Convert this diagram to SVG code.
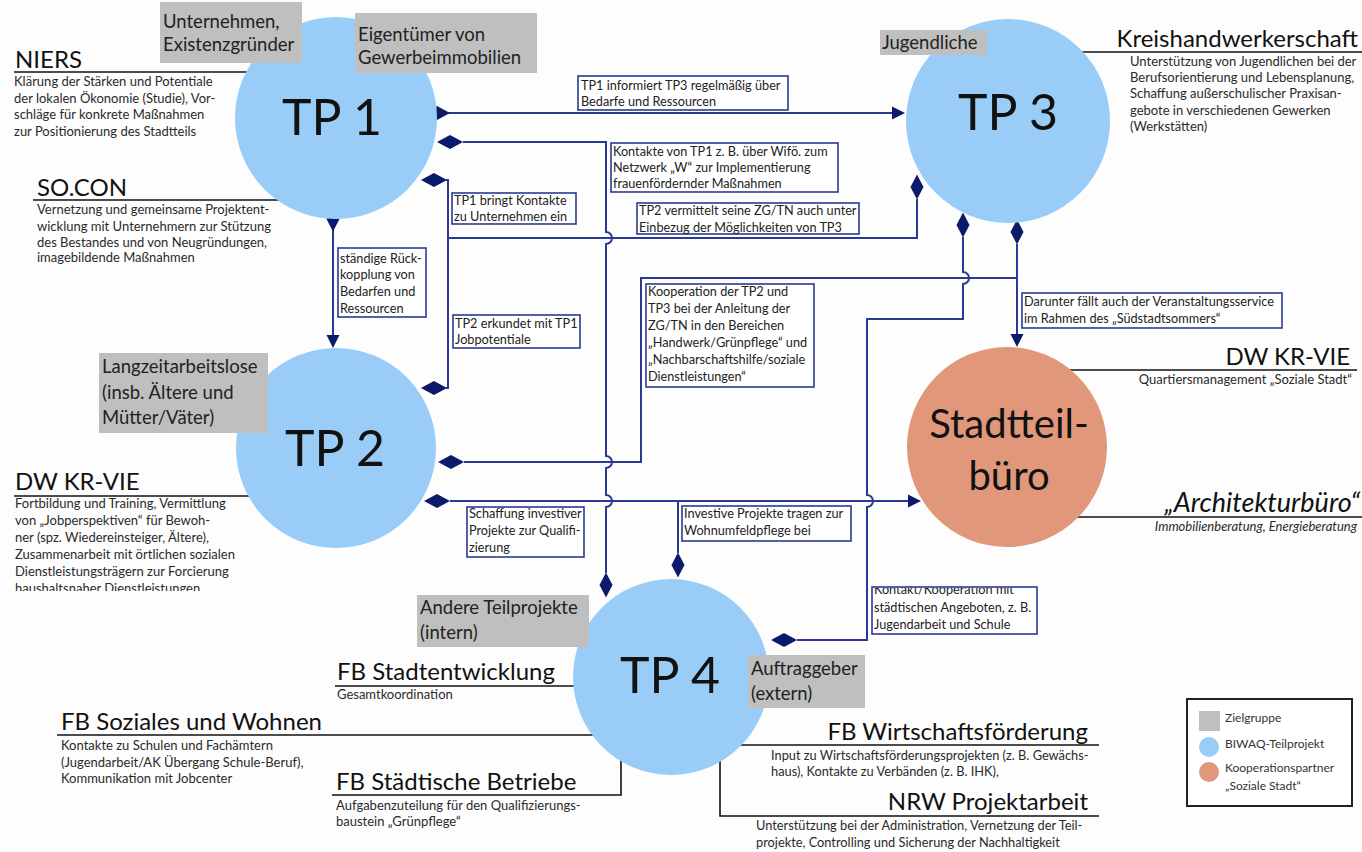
<svg xmlns="http://www.w3.org/2000/svg" width="1362" height="852" viewBox="0 0 1362 852">
<style>
text{font-family:Lato,"Open Sans","Liberation Sans",sans-serif;}
.bg{fill:#fdfdfd;}
.tp{fill:#99CCF7;}
.sb{fill:#E0977A;}
.big{font-size:50px;fill:#111;text-anchor:middle;}
.big2{font-size:40px;fill:#111;text-anchor:middle;}
.zg{fill:#BFBFBF;}
.zgt{font-size:18.5px;fill:#222;}
.hd{font-size:24px;fill:#111;}
.ds{font-size:13px;fill:#2a2a2a;}
.ds2{font-size:12.8px;fill:#2a2a2a;}
.ul{stroke:#111;stroke-width:1.6;fill:none;}
.cn{stroke:#2A3A94;stroke-width:2;fill:none;}
.mk{fill:#0C1A6B;}
.lb{fill:#fff;stroke:#2A3A94;stroke-width:1.6;}
.lt{font-size:12.7px;fill:#222;}
.end{text-anchor:end;}
.it{font-style:italic;}
.lg{font-size:12px;fill:#333;}
</style>
<defs>
<path id="dH" class="mk" d="M-13,0 L0,-7 L13,0 L0,7 Z"/>
<path id="dV" class="mk" d="M0,-12.5 L6.5,0 L0,12.5 L-6.5,0 Z"/>
<path id="aR" class="mk" d="M0,0 L-13,-6.5 L-13,6.5 Z"/>
<path id="aD" class="mk" d="M0,0 L-6.5,-13 L6.5,-13 Z"/>
<clipPath id="clipK"><rect x="872" y="588" width="165" height="46"/></clipPath>
<clipPath id="clipDW"><rect x="0" y="0" width="300" height="591"/></clipPath>
<clipPath id="clipV"><rect x="637" y="203" width="222" height="31"/></clipPath>
</defs>
<rect class="bg" x="0" y="0" width="1362" height="852"/>

<g id="partner-lines">
<path class="ul" d="M14,72 H300"/>
<path class="ul" d="M33,200 H300"/>
<path class="ul" d="M14,496 H300"/>
<path class="ul" d="M1040,52 H1362"/>
<path class="ul" d="M1040,370 H1357"/>
<path class="ul" d="M1040,517 H1362"/>
<path class="ul" d="M335,686 H620"/>
<path class="ul" d="M57,735 H620"/>
<path class="ul" d="M332,795 H621 V740"/>
<path class="ul" d="M720,745 H1099"/>
<path class="ul" d="M720,740 V816 H1099"/>
</g>

<g id="connectors">
<path class="cn" d="M437,113 H893"/>
<path class="cn" d="M463,142 H606 V232 A6,6 0 0 1 606,244 V456 A6,6 0 0 1 606,468 V495 A6,6 0 0 1 606,507 V573"/>
<path class="cn" d="M446,180 H448 V388 H446"/>
<path class="cn" d="M448,238 H917 V199"/>
<path class="cn" d="M333,225 V336"/>
<path class="cn" d="M464,462 H641 V278 H1017"/>
<path class="cn" d="M1017,244 V335"/>
<path class="cn" d="M963,237 V272 A6,6 0 0 1 963,284 V319 H867 V495 A6,6 0 0 1 867,507 V640 H797"/>
<path class="cn" d="M450,501 H909"/>
<path class="cn" d="M678,501 V553"/>
<use href="#dH" x="437" y="113"/>
<use href="#aR" x="905" y="113"/>
<use href="#dH" x="450" y="142"/>
<use href="#dH" x="434" y="180"/>
<use href="#dH" x="434" y="388"/>
<use href="#dV" x="917" y="187"/>
<use href="#dV" x="333" y="219"/>
<use href="#aD" x="333" y="348"/>
<use href="#dH" x="451" y="462"/>
<use href="#dV" x="963" y="225"/>
<use href="#dV" x="1017" y="232"/>
<use href="#aD" x="1017" y="347"/>
<use href="#dH" x="437" y="501"/>
<use href="#aR" x="921" y="501"/>
<use href="#dV" x="678" y="565"/>
<use href="#dV" x="606" y="585"/>
<use href="#dH" x="784" y="640"/>
</g>

<g id="tp1"><circle class="tp" cx="336" cy="118" r="101"/><text class="big" x="332" y="135">TP 1</text></g>
<g id="tp2"><circle class="tp" cx="336" cy="448" r="100"/><text class="big" x="335" y="466">TP 2</text></g>
<g id="tp3"><circle class="tp" cx="1008" cy="121" r="102"/><text class="big" x="1008" y="130">TP 3</text></g>
<g id="tp4"><circle class="tp" cx="671" cy="677" r="98"/><text class="big" x="670" y="693">TP 4</text></g>
<g id="stadtteilbuero"><circle class="sb" cx="1007" cy="447" r="100"/><text class="big2" x="1009" y="438">Stadtteil-</text><text class="big2" x="1009" y="490">büro</text></g>

<g id="zg-unternehmen"><rect class="zg" x="160" y="2" width="142" height="61"/><text class="zgt" x="163" y="28">Unternehmen,</text><text class="zgt" x="163" y="51">Existenzgründer</text></g>
<g id="zg-eigentuemer"><rect class="zg" x="355" y="13" width="182" height="60"/><text class="zgt" x="358" y="41">Eigentümer von</text><text class="zgt" x="358" y="64">Gewerbeimmobilien</text></g>
<g id="zg-jugendliche"><rect class="zg" x="880" y="30" width="107" height="25"/><text class="zgt" x="882" y="49">Jugendliche</text></g>
<g id="zg-langzeit"><rect class="zg" x="99" y="353" width="169" height="80"/><text class="zgt" x="102" y="373">Langzeitarbeitslose</text><text class="zgt" x="102" y="399">(insb. Ältere und</text><text class="zgt" x="102" y="424">Mütter/Väter)</text></g>
<g id="zg-andere"><rect class="zg" x="417" y="595" width="172" height="52"/><text class="zgt" x="420" y="614">Andere Teilprojekte</text><text class="zgt" x="420" y="639">(intern)</text></g>
<g id="zg-auftraggeber"><rect class="zg" x="748" y="655" width="117" height="53"/><text class="zgt" x="751" y="675">Auftraggeber</text><text class="zgt" x="751" y="700">(extern)</text></g>

<g id="labels">
<rect class="lb" x="578" y="76" width="210" height="34"/>
<text class="lt" x="581" y="90">TP1 informiert TP3 regelmäßig über</text>
<text class="lt" x="581" y="106">Bedarfe und Ressourcen</text>
<rect class="lb" x="611" y="143" width="227" height="49"/>
<text class="lt" x="613" y="156">Kontakte von TP1 z. B. über Wifö. zum</text>
<text class="lt" x="613" y="172">Netzwerk „W“ zur Implementierung</text>
<text class="lt" x="613" y="188">frauenfördernder Maßnahmen</text>
<rect class="lb" x="452" y="193" width="124" height="31"/>
<text class="lt" x="454" y="205">TP1 bringt Kontakte</text>
<text class="lt" x="454" y="221">zu Unternehmen ein</text>
<rect class="lb" x="637" y="203" width="222" height="31"/>
<g clip-path="url(#clipV)">
<text class="lt" x="639" y="215">TP2 vermittelt seine ZG/TN auch unter</text>
<text class="lt" x="639" y="232">Einbezug der Möglichkeiten von TP3</text>
</g>
<rect class="lb" x="338" y="248" width="88" height="69"/>
<text class="lt" x="340" y="263">ständige Rück-</text>
<text class="lt" x="340" y="279">kopplung von</text>
<text class="lt" x="340" y="296">Bedarfen und</text>
<text class="lt" x="340" y="313">Ressourcen</text>
<rect class="lb" x="453" y="315" width="127" height="33"/>
<text class="lt" x="455" y="328">TP2 erkundet mit TP1</text>
<text class="lt" x="455" y="344">Jobpotentiale</text>
<rect class="lb" x="646" y="284" width="168" height="103"/>
<text class="lt" x="648" y="296">Kooperation der TP2 und</text>
<text class="lt" x="648" y="313">TP3 bei der Anleitung der</text>
<text class="lt" x="648" y="330">ZG/TN in den Bereichen</text>
<text class="lt" x="648" y="347">„Handwerk/Grünpflege“ und</text>
<text class="lt" x="648" y="364">„Nachbarschaftshilfe/soziale</text>
<text class="lt" x="648" y="381">Dienstleistungen“</text>
<rect class="lb" x="1022" y="293" width="260" height="35"/>
<text class="lt" x="1024" y="306">Darunter fällt auch der Veranstaltungsservice</text>
<text class="lt" x="1024" y="323">im Rahmen des „Südstadtsommers“</text>
<rect class="lb" x="467" y="507" width="117" height="50"/>
<text class="lt" x="469" y="518">Schaffung investiver</text>
<text class="lt" x="469" y="535">Projekte zur Qualifi-</text>
<text class="lt" x="469" y="552">zierung</text>
<rect class="lb" x="682" y="506" width="169" height="35"/>
<text class="lt" x="684" y="518">Investive Projekte tragen zur</text>
<text class="lt" x="684" y="535">Wohnumfeldpflege bei</text>
<rect class="lb" x="872" y="587" width="165" height="47"/>
<g clip-path="url(#clipK)">
<text class="lt" x="874" y="594">Kontakt/Kooperation mit</text>
<text class="lt" x="874" y="612">städtischen Angeboten, z. B.</text>
<text class="lt" x="874" y="629">Jugendarbeit und Schule</text>
</g>
</g>

<g id="niers"><text class="hd" x="15" y="68">NIERS</text>
<text class="ds" x="14" y="86">Klärung der Stärken und Potentiale</text>
<text class="ds" x="14" y="102.5">der lokalen Ökonomie (Studie), Vor-</text>
<text class="ds" x="14" y="119">schläge für konkrete Maßnahmen</text>
<text class="ds" x="14" y="135.5">zur Positionierung des Stadtteils</text></g>
<g id="socon"><text class="hd" x="37" y="196">SO.CON</text>
<text class="ds" x="37" y="214">Vernetzung und gemeinsame Projektent-</text>
<text class="ds" x="37" y="231">wicklung mit Unternehmern zur Stützung</text>
<text class="ds" x="37" y="247">des Bestandes und von Neugründungen,</text>
<text class="ds" x="37" y="262">imagebildende Maßnahmen</text></g>
<g id="dwkrvie-left"><text class="hd" x="15" y="490">DW KR-VIE</text>
<g clip-path="url(#clipDW)">
<text class="ds" x="15" y="508">Fortbildung und Training, Vermittlung</text>
<text class="ds" x="15" y="525">von „Jobperspektiven“ für Bewoh-</text>
<text class="ds" x="15" y="542">ner (spz. Wiedereinsteiger, Ältere),</text>
<text class="ds" x="15" y="559">Zusammenarbeit mit örtlichen sozialen</text>
<text class="ds" x="15" y="576">Dienstleistungsträgern zur Forcierung</text>
<text class="ds" x="15" y="593">haushaltsnaher Dienstleistungen</text>
</g></g>
<g id="kreishandwerkerschaft"><text class="hd end" x="1358" y="47">Kreishandwerkerschaft</text>
<text class="ds" x="1130" y="65.5">Unterstützung von Jugendlichen bei der</text>
<text class="ds" x="1130" y="82">Berufsorientierung und Lebensplanung,</text>
<text class="ds" x="1130" y="98">Schaffung außerschulischer Praxisan-</text>
<text class="ds" x="1130" y="114.5">gebote in verschiedenen Gewerken</text>
<text class="ds" x="1130" y="131">(Werkstätten)</text></g>
<g id="dwkrvie-right"><text class="hd end" x="1350" y="365">DW KR-VIE</text>
<text class="ds end" x="1352" y="384">Quartiersmanagement „Soziale Stadt“</text></g>
<g id="architekturbuero"><text class="hd end it" x="1360" y="512" style="font-size:27px">„Architekturbüro“</text>
<text class="ds end it" x="1357" y="531">Immobilienberatung, Energieberatung</text></g>
<g id="fb-stadtentwicklung"><text class="hd" x="337" y="680">FB Stadtentwicklung</text>
<text class="ds" x="337" y="699">Gesamtkoordination</text></g>
<g id="fb-soziales"><text class="hd" x="61" y="730">FB Soziales und Wohnen</text>
<text class="ds" x="61" y="750">Kontakte zu Schulen und Fachämtern</text>
<text class="ds" x="61" y="767">(Jugendarbeit/AK Übergang Schule-Beruf),</text>
<text class="ds" x="61" y="783">Kommunikation mit Jobcenter</text></g>
<g id="fb-staedtische"><text class="hd" x="336" y="790">FB Städtische Betriebe</text>
<text class="ds" x="336" y="810">Aufgabenzuteilung für den Qualifizierungs-</text>
<text class="ds" x="336" y="826">baustein „Grünpflege“</text></g>
<g id="fb-wirtschaft"><text class="hd end" x="1088" y="740">FB Wirtschaftsförderung</text>
<text class="ds2" x="771" y="760">Input zu Wirtschaftsförderungsprojekten (z. B. Gewächs-</text>
<text class="ds2" x="771" y="776">haus), Kontakte zu Verbänden (z. B. IHK),</text></g>
<g id="nrw"><text class="hd end" x="1088" y="810">NRW Projektarbeit</text>
<text class="ds2" x="756" y="830">Unterstützung bei der Administration, Vernetzung der Teil-</text>
<text class="ds2" x="756" y="847">projekte, Controlling und Sicherung der Nachhaltigkeit</text></g>

<g id="legend">
<rect x="1187" y="699" width="165" height="107" fill="#fff" stroke="#222" stroke-width="2"/>
<rect class="zg" x="1199" y="711" width="21" height="20"/>
<text class="lg" x="1225" y="722">Zielgruppe</text>
<circle class="tp" cx="1209" cy="747" r="10"/>
<text class="lg" x="1225" y="748">BIWAQ-Teilprojekt</text>
<circle class="sb" cx="1209" cy="772" r="10"/>
<text class="lg" x="1225" y="772">Kooperationspartner</text>
<text class="lg" x="1225" y="790">„Soziale Stadt“</text>
</g>
</svg>
